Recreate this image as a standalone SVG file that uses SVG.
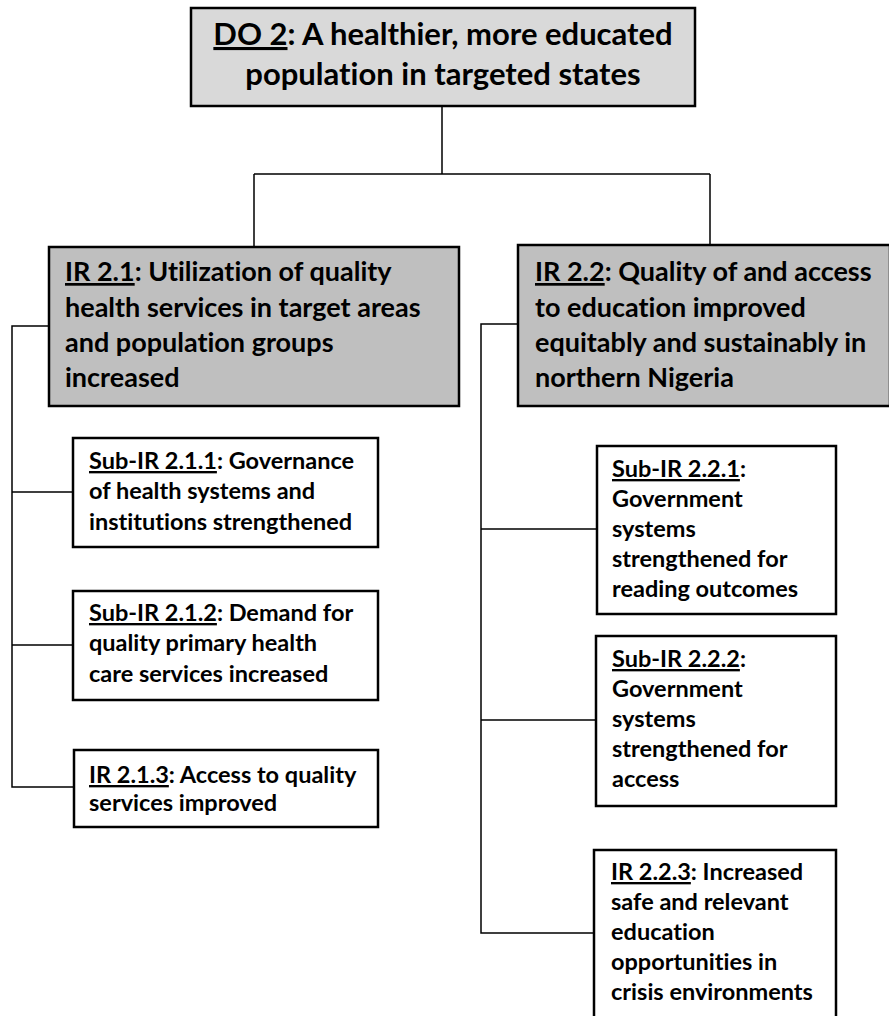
<svg xmlns="http://www.w3.org/2000/svg" width="889" height="1016" viewBox="0 0 889 1016">
<style>
text{font-family:Lato,"Open Sans","Liberation Sans",sans-serif;font-weight:bold;fill:#000;font-variant-ligatures:none;font-feature-settings:"liga" 0,"clig" 0}
.u{text-decoration:underline}
.do{font-size:31px}
.ir{font-size:27px}
.sub{font-size:23.5px}
.box{stroke:#000;stroke-width:2.5}
.do-fill{fill:#d9d9d9}
.ir-fill{fill:#bfbfbf}
.sub-fill{fill:#fff}
.conn{fill:none;stroke:#000;stroke-width:1.5}
</style>
<rect width="889" height="1016" fill="#fff"/>
<g id="connectors">
<path class="conn" d="M442 106V174M254 174H710M254 174V247M710 174V245"/>
<path class="conn" d="M49 326H12V787H74M12 492H73M12 645H73"/>
<path class="conn" d="M518 324H481V933H594M481 529H597M481 720H596"/>
</g>
<g id="do2">
<rect class="box do-fill" x="191" y="8" width="504" height="98"/>
<text class="do" x="443" y="45" text-anchor="middle"><tspan class="u">DO 2</tspan>: A healthier, more educated</text>
<text class="do" x="443" y="85" text-anchor="middle">population in targeted states</text>
</g>
<g id="ir21">
<rect class="box ir-fill" x="49" y="247" width="410" height="159"/>
<text class="ir" x="65" y="281"><tspan class="u">IR 2.1</tspan>: Utilization of quality</text>
<text class="ir" x="65" y="317">health services in target areas</text>
<text class="ir" x="65" y="352">and population groups</text>
<text class="ir" x="65" y="387">increased</text>
</g>
<g id="ir22">
<rect class="box ir-fill" x="518" y="245" width="372" height="161"/>
<text class="ir" x="535" y="281"><tspan class="u">IR 2.2</tspan>: Quality of and access</text>
<text class="ir" x="535" y="317">to education improved</text>
<text class="ir" x="535" y="352">equitably and sustainably in</text>
<text class="ir" x="535" y="387">northern Nigeria</text>
</g>
<g id="sub211">
<rect class="box sub-fill" x="73" y="438" width="305" height="109"/>
<text class="sub" x="89" y="469"><tspan class="u">Sub-IR 2.1.1</tspan>: Governance</text>
<text class="sub" x="89" y="499">of health systems and</text>
<text class="sub" x="89" y="530">institutions strengthened</text>
</g>
<g id="sub212">
<rect class="box sub-fill" x="73" y="591" width="305" height="109"/>
<text class="sub" x="89" y="621"><tspan class="u">Sub-IR 2.1.2</tspan>: Demand for</text>
<text class="sub" x="89" y="651">quality primary health</text>
<text class="sub" x="89" y="682">care services increased</text>
</g>
<g id="ir213">
<rect class="box sub-fill" x="74" y="750" width="304" height="77"/>
<text class="sub" x="89" y="783"><tspan class="u">IR 2.1.3</tspan>: Access to quality</text>
<text class="sub" x="89" y="811">services improved</text>
</g>
<g id="sub221">
<rect class="box sub-fill" x="597" y="446" width="239" height="168"/>
<text class="sub" x="612" y="477"><tspan class="u">Sub-IR 2.2.1</tspan>:</text>
<text class="sub" x="612" y="507">Government</text>
<text class="sub" x="612" y="537">systems</text>
<text class="sub" x="612" y="567">strengthened for</text>
<text class="sub" x="612" y="597">reading outcomes</text>
</g>
<g id="sub222">
<rect class="box sub-fill" x="596" y="636" width="240" height="170"/>
<text class="sub" x="612" y="667"><tspan class="u">Sub-IR 2.2.2</tspan>:</text>
<text class="sub" x="612" y="697">Government</text>
<text class="sub" x="612" y="727">systems</text>
<text class="sub" x="612" y="757">strengthened for</text>
<text class="sub" x="612" y="787">access</text>
</g>
<g id="ir223">
<rect class="box sub-fill" x="594" y="850" width="242" height="172"/>
<text class="sub" x="611" y="880"><tspan class="u">IR 2.2.3</tspan>: Increased</text>
<text class="sub" x="611" y="910">safe and relevant</text>
<text class="sub" x="611" y="940">education</text>
<text class="sub" x="611" y="970">opportunities in</text>
<text class="sub" x="611" y="1000">crisis environments</text>
</g>
</svg>
